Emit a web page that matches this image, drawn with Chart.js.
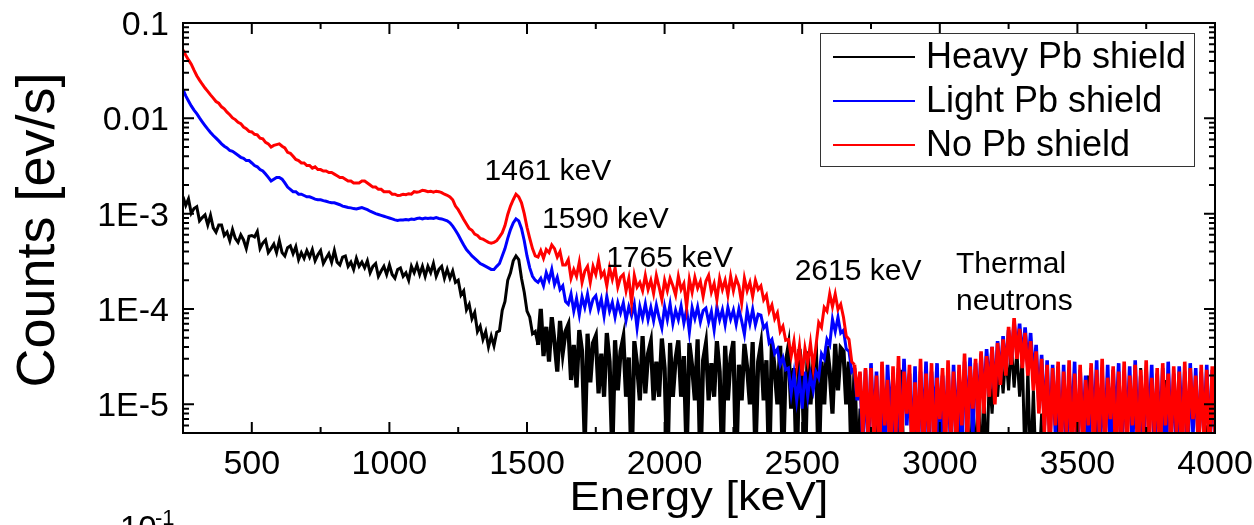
<!DOCTYPE html>
<html>
<head>
<meta charset="utf-8">
<script src="https://cdn.jsdelivr.net/npm/chart.js"></script>
<style>
  html, body { margin: 0; padding: 0; background: #fff; }
  #wrap { position: relative; width: 1254px; height: 525px; }
</style>
</head>
<body>
<div id="wrap"><canvas id="spectrum"></canvas></div>
<script>
// ========================
// DATA (10 keV channels)
// ========================
const energy = [
  250,260,270,280,290,300,310,320,330,340,
  350,360,370,380,390,400,410,420,430,440,
  450,460,470,480,490,500,510,520,530,540,
  550,560,570,580,590,600,610,620,630,640,
  650,660,670,680,690,700,710,720,730,740,
  750,760,770,780,790,800,810,820,830,840,
  850,860,870,880,890,900,910,920,930,940,
  950,960,970,980,990,1000,1010,1020,1030,1040,
  1050,1060,1070,1080,1090,1100,1110,1120,1130,1140,
  1150,1160,1170,1180,1190,1200,1210,1220,1230,1240,
  1250,1260,1270,1280,1290,1300,1310,1320,1330,1340,
  1350,1360,1370,1380,1390,1400,1410,1420,1430,1440,
  1450,1460,1470,1480,1490,1500,1510,1520,1530,1540,
  1550,1560,1570,1580,1590,1600,1610,1620,1630,1640,
  1650,1660,1670,1680,1690,1700,1710,1720,1730,1740,
  1750,1760,1770,1780,1790,1800,1810,1820,1830,1840,
  1850,1860,1870,1880,1890,1900,1910,1920,1930,1940,
  1950,1960,1970,1980,1990,2000,2010,2020,2030,2040,
  2050,2060,2070,2080,2090,2100,2110,2120,2130,2140,
  2150,2160,2170,2180,2190,2200,2210,2220,2230,2240,
  2250,2260,2270,2280,2290,2300,2310,2320,2330,2340,
  2350,2360,2370,2380,2390,2400,2410,2420,2430,2440,
  2450,2460,2470,2480,2490,2500,2510,2520,2530,2540,
  2550,2560,2570,2580,2590,2600,2610,2620,2630,2640,
  2650,2660,2670,2680,2690,2700,2710,2720,2730,2740,
  2750,2760,2770,2780,2790,2800,2810,2820,2830,2840,
  2850,2860,2870,2880,2890,2900,2910,2920,2930,2940,
  2950,2960,2970,2980,2990,3000,3010,3020,3030,3040,
  3050,3060,3070,3080,3090,3100,3110,3120,3130,3140,
  3150,3160,3170,3180,3190,3200,3210,3220,3230,3240,
  3250,3260,3270,3280,3290,3300,3310,3320,3330,3340,
  3350,3360,3370,3380,3390,3400,3410,3420,3430,3440,
  3450,3460,3470,3480,3490,3500,3510,3520,3530,3540,
  3550,3560,3570,3580,3590,3600,3610,3620,3630,3640,
  3650,3660,3670,3680,3690,3700,3710,3720,3730,3740,
  3750,3760,3770,3780,3790,3800,3810,3820,3830,3840,
  3850,3860,3870,3880,3890,3900,3910,3920,3930,3940,
  3950,3960,3970,3980,3990,4000
];

// Heavy Pb shield (black)
const heavyPb = [
  0.00151,0.00122,0.00143,0.00101,0.00113,0.00118,0.00084,0.00091,0.00097,0.00076,
  0.00096,0.00071,0.00064,0.00076,0.00076,0.00059,0.00064,0.00052,0.00068,0.00055,
  0.0005,0.0006,0.00053,0.00043,0.00058,0.00059,0.00057,0.00065,0.00043,0.00049,
  0.00053,0.00039,0.00043,0.00048,0.00039,0.00052,0.00039,0.00036,0.00044,0.00046,
  0.00038,0.00045,0.00033,0.00039,0.00034,0.00041,0.00035,0.00042,0.00032,0.00037,
  0.00041,0.0003,0.00034,0.00038,0.00031,0.00041,0.00031,0.00029,0.00035,0.00036,
  0.00028,0.00031,0.00026,0.00034,0.00028,0.00031,0.00027,0.00032,0.00024,0.00028,
  0.0003,0.00022,0.00025,0.00028,0.00023,0.00029,0.00023,0.00021,0.00026,0.00027,
  0.00022,0.00024,0.0002,0.00028,0.00024,0.00029,0.00023,0.00028,0.00022,0.00028,
  0.00024,0.0003,0.00022,0.00026,0.00028,0.00021,0.00026,0.00021,0.00025,0.00019,
  0.0002,0.00014,0.000155,0.000098,0.000112,0.000079,0.000092,0.000058,0.000066,0.000048,
  0.000058,0.00004,0.000052,0.000041,0.000057,0.000059,0.000097,0.00012,0.0002,0.00024,
  0.00032,0.00036,0.00033,0.00021,0.00015,0.000095,0.000082,0.000055,0.000058,0.000042,
  0.0001,0.000032,0.000065,0.000028,0.000082,0.000045,0.000022,0.000075,0.000035,0.000058,
  0.000068,0.000018,0.000042,0.000015,0.00006,0.000036,0.000004,0.000055,0.000017,0.000044,
  0.000052,0.000013,0.000034,0.000012,0.000056,0.000028,0.000003,0.000047,0.000014,0.000036,
  0.00005,0.000012,0.000031,0.000002,0.000046,0.000026,0.000011,0.000052,0.000013,0.000034,
  0.000045,0.000011,0.000028,0.000012,0.000049,0.000024,0.000002,0.000044,0.000012,0.00003,
  0.000047,0.000012,0.000032,0.000003,0.000044,0.000025,0.000011,0.000048,0.000002,0.000029,
  0.000043,0.000011,0.000027,0.000012,0.000046,0.000022,0.000002,0.000041,0.000011,0.000031,
  0.000046,0.000002,0.000026,0.000011,0.000043,0.000024,0.00001,0.000045,0.000003,0.000028,
  0.000042,0.000011,0.000029,0.000002,0.000045,0.000023,0.00001,0.000041,0.000002,0.000027,
  0.00004,0.000009,0.000024,0.000002,0.000038,0.00002,0.000002,0.000036,0.00001,0.000026,
  0.000034,0.000002,0.000028,0.00001,0.000041,0.000022,0.000008,0.000043,0.000014,0.000039,
  0.000036,0.00001,0.000028,0.000002,0.000022,0.000002,0.000009,0.000002,0.000002,0.000002,
  2e-6,2e-6,6e-6,2e-6,2.6e-5,2e-6,2e-6,2e-6,8e-6,2e-6,
  2e-6,2.3e-5,2e-6,2e-6,2e-6,7e-6,2e-6,2e-6,2e-6,2e-6,
  2e-6,6e-6,2e-6,2e-6,2e-6,2e-6,2.2e-5,2e-6,2e-6,2e-6,
  2e-6,2e-6,7e-6,2e-6,2e-6,9e-6,2e-6,1.2e-5,2e-6,1.5e-5,
  2e-6,1.4e-5,2e-6,2.1e-5,8e-6,2.6e-5,1.2e-5,3e-5,1.3e-5,3.4e-5,
  1.4e-5,4.2e-5,1.5e-5,3.6e-5,1.2e-5,3.1e-5,2e-6,2.4e-5,2e-6,1.4e-5,
  2e-6,2e-6,8e-6,2e-6,2e-6,2e-6,2e-6,2e-6,2.3e-5,2e-6,
  2e-6,2e-6,2e-6,6e-6,2e-6,2e-6,2e-6,2e-6,2e-6,2e-5,
  2e-6,2e-6,7e-6,2e-6,2e-6,2e-6,2e-6,2e-6,6e-6,2e-6,
  2e-6,2e-6,2e-6,2e-6,2e-6,2e-6,2e-6,2e-6,2.4e-5,2e-6,
  2e-6,6e-6,2e-6,2e-6,2e-6,2e-6,2e-6,1.8e-5,2e-6,2e-6,
  2e-6,2e-6,2e-6,7e-6,2e-6,2e-6,2e-6,2e-6,2e-6,2e-6,
  2e-6,2e-6,6e-6,2e-6,2e-6,2e-6
];

// Light Pb shield (blue)
const lightPb = [
  0.020,0.0172,0.0152,0.0135,0.0122,0.0112,0.0101,0.0092,0.0084,0.0077,
  0.0071,0.0066,0.0062,0.0058,0.0054,0.0051,0.0049,0.0046,0.0045,0.0043,
  0.0041,0.0039,0.0038,0.0036,0.0036,0.0034,0.0032,0.0031,0.0029,0.0028,
  0.0026,0.0024,0.0022,0.0023,0.0024,0.0024,0.0023,0.0021,0.0019,0.0018,
  0.0017,0.0017,0.0016,0.0016,0.00155,0.0015,0.0015,0.00146,0.00142,0.0014,
  0.0014,0.00137,0.00135,0.00132,0.0013,0.0013,0.00127,0.00124,0.0012,0.00118,
  0.00116,0.00115,0.00113,0.00112,0.00114,0.00116,0.00113,0.0011,0.00106,0.00103,
  0.001,0.00098,0.00096,0.00094,0.00092,0.0009,0.00088,0.00086,0.00085,0.00086,
  0.00086,0.00087,0.00086,0.00088,0.00087,0.00089,0.0009,0.00088,0.0009,0.00089,
  0.0009,0.00089,0.00091,0.00089,0.00088,0.00086,0.00084,0.0008,0.00074,0.00067,
  0.0006,0.00053,0.00047,0.00042,0.00039,0.00036,0.00034,0.00032,0.0003,0.00029,
  0.00028,0.00027,0.00026,0.00026,0.00028,0.0003,0.00036,0.00043,0.00055,0.00068,
  0.0008,0.00088,0.00084,0.0007,0.00052,0.00036,0.00027,0.00022,0.0002,0.00019,
  0.00021,0.000175,0.00024,0.0002,0.00026,0.00018,0.000215,0.00016,0.000175,0.00012,
  0.000112,0.000144,0.000095,0.000129,0.000087,0.000134,0.000104,0.000143,0.000099,0.000127,
  0.000138,0.000099,0.000127,0.000084,0.000135,0.000095,0.000117,0.000082,0.000116,0.000091,
  0.000116,0.000076,0.000106,0.000085,0.000112,0.000063,0.000106,0.00008,0.000113,0.000077,
  0.000104,0.000075,0.00011,0.000081,0.000063,0.000106,0.000077,0.000113,0.00007,0.000097,
  0.000077,0.000107,0.000071,0.000099,0.000057,0.000103,0.000079,0.000105,0.000073,0.000096,
  0.000102,0.000073,0.000094,0.00006,0.000106,0.000077,0.000098,0.000068,0.000104,0.000078,
  0.000097,0.000069,0.0001,0.000075,0.000054,0.000097,0.00007,0.000099,0.000068,0.000088,
  0.000086,0.000063,0.000069,0.000044,0.000048,0.000034,0.000038,0.000026,0.000031,0.000023,
  0.000024,0.000013,0.000021,0.000011,0.000019,0.000009,0.000022,0.000012,0.00002,0.000014,
  0.000022,0.000019,0.000034,0.00003,0.000048,0.000042,0.000078,0.000058,0.000082,0.000056,
  0.00006,0.000038,0.000036,0.000022,0.000024,0.000011,0.000021,0.000004,0.000023,0.000003,
  2.7e-5,5e-6,2.2e-5,3e-6,1.8e-5,2e-6,2.6e-5,7e-6,2e-5,2.5e-6,
  2.4e-5,4e-6,3e-5,6e-6,2.1e-5,3e-6,2.5e-5,2e-6,2.2e-5,5e-6,
  2.8e-5,3e-6,2.2e-5,6e-6,2.7e-5,2e-6,2e-5,5e-6,2.4e-5,3e-6,
  2.6e-5,5e-6,2.2e-5,3e-6,2.8e-5,7e-6,3.1e-5,5e-6,2.7e-5,9e-6,
  3.4e-5,1e-5,3.8e-5,1.4e-5,4e-5,1.2e-5,4.6e-5,1.8e-5,5.2e-5,2.2e-5,
  6e-5,3e-5,7.2e-5,3.4e-5,7e-5,2.8e-5,6.4e-5,2.4e-5,5.6e-5,1.8e-5,
  4.2e-5,1e-5,3.3e-5,6e-6,2.9e-5,4e-6,2.6e-5,5e-6,2.5e-5,3e-6,
  2.6e-5,3e-6,2.2e-5,6e-6,2.8e-5,2e-6,2.3e-5,5e-6,2e-5,3e-6,
  2.4e-5,5e-6,2.9e-5,2e-6,2.1e-5,4e-6,2.6e-5,3e-6,2.3e-5,6e-6,
  2.7e-5,2e-6,2.2e-5,5e-6,2.5e-5,3e-6,2.9e-5,4e-6,2e-5,2.5e-6,
  2.3e-5,6e-6,2.6e-5,3e-6,2.1e-5,5e-6,2.4e-5,2e-6,2.8e-5,4e-6,
  2.1e-5,3e-6,2.5e-5,6e-6,2.2e-5,2e-6,2.7e-5,5e-6,2.4e-5,3e-6,
  2.2e-5,5e-6,2.6e-5,3e-6,2.3e-5,4e-6
];

// No Pb shield (red)
const noPb = [
  0.052,0.046,0.041,0.037,0.032,0.028,0.0252,0.0228,0.0208,0.0192,
  0.0176,0.0163,0.0150,0.0144,0.0132,0.0126,0.0116,0.0109,0.0101,0.0097,
  0.0091,0.0088,0.0081,0.0078,0.0073,0.0072,0.0068,0.0067,0.0062,0.0061,
  0.0056,0.0054,0.0050,0.0052,0.0053,0.0054,0.0051,0.0049,0.0044,0.0043,
  0.0040,0.0037,0.0036,0.0034,0.0034,0.0032,0.0032,0.0030,0.0031,0.0029,
  0.0029,0.0028,0.0028,0.0027,0.0027,0.0026,0.0025,0.0024,0.0024,0.0023,
  0.0022,0.0022,0.0021,0.0021,0.0021,0.0022,0.0022,0.0021,0.0020,0.0019,
  0.0019,0.0018,0.0018,0.0017,0.0017,0.0017,0.0016,0.0016,0.00155,0.00156,
  0.0016,0.00158,0.00162,0.0016,0.0017,0.00168,0.0017,0.00176,0.00174,0.0017,
  0.00172,0.00168,0.00172,0.0017,0.00166,0.0016,0.00156,0.0015,0.0014,0.0012,
  0.0011,0.00098,0.00087,0.00078,0.0007,0.00067,0.00061,0.00059,0.00055,0.00054,
  0.00052,0.0005,0.00049,0.0005,0.00052,0.00057,0.00063,0.00075,0.00098,0.0012,
  0.0014,0.0016,0.0015,0.0013,0.001,0.00072,0.00055,0.00043,0.00036,0.00035,
  0.00041,0.00034,0.00042,0.00039,0.00047,0.00043,0.00035,0.0004,0.00029,0.00029,
  0.00033,0.00021,0.00026,0.00022,0.00031,0.00019,0.00025,0.00028,0.00019,0.00028,
  0.00023,0.000325,0.00022,0.000245,0.000175,0.00027,0.000205,0.00027,0.00017,0.000215,
  0.00023,0.000155,0.00021,0.000115,0.000225,0.00017,0.00019,0.000155,0.000225,0.00016,
  0.0002,0.000145,0.000225,0.00017,0.000125,0.0002,0.000155,0.00021,0.000175,0.00014,
  0.00022,0.00016,0.000185,0.000105,0.000205,0.00015,0.000215,0.000165,0.000195,0.000135,
  0.000195,0.000225,0.00015,0.000185,0.000125,0.00021,0.00016,0.0002,0.00014,0.00022,
  0.000155,0.00021,0.000175,0.000115,0.00021,0.000155,0.00019,0.000135,0.0002,0.00016,
  0.000175,0.000125,0.00014,0.000094,0.00011,0.000079,0.000091,0.000058,0.000066,0.000047,
  0.000048,0.000032,0.000046,0.000025,0.000041,0.00002,0.000039,0.000027,0.000044,0.000024,
  0.000041,0.000072,0.000064,0.000104,0.000095,0.000144,0.000106,0.000144,0.000099,0.000112,
  0.000082,0.000052,0.000048,0.000028,0.000026,0.000012,0.000022,0.000005,0.000024,0.000004,
  2.4e-5,4e-6,2e-5,2.5e-6,2.8e-5,6e-6,1.8e-5,2e-6,2.5e-5,5e-6,
  3.2e-5,3e-6,2.2e-5,8e-6,2.6e-5,2e-6,1.7e-5,4e-6,3e-5,2.5e-6,
  2.1e-5,5e-6,2.7e-5,2e-6,1.9e-5,7e-6,2.4e-5,3e-6,2.9e-5,4.5e-6,
  2.2e-5,3e-6,2.6e-5,6e-6,3.4e-5,4e-6,2.5e-5,9e-6,3e-5,5e-6,
  3.6e-5,8e-6,3.2e-5,1.2e-5,4e-5,1e-5,4.4e-5,1.6e-5,4.8e-5,2e-5,
  6.5e-5,2.6e-5,8e-5,3e-5,6.2e-5,2.4e-5,5.6e-5,2e-5,4.6e-5,1.4e-5,
  3.6e-5,8e-6,3e-5,5e-6,2.6e-5,3e-6,2.4e-5,6e-6,2.8e-5,2.5e-6,
  2.2e-5,5e-6,2.9e-5,2e-6,2.1e-5,4e-6,2.6e-5,3e-6,1.8e-5,6e-6,
  2.7e-5,2.5e-6,2.3e-5,5e-6,3e-5,3e-6,1.9e-5,7e-6,2.5e-5,2e-6,
  2.2e-5,4e-6,2.8e-5,3e-6,2e-5,6e-6,2.6e-5,2e-6,2.3e-5,5e-6,
  2.9e-5,3e-6,1.9e-5,5e-6,2.4e-5,2e-6,2.7e-5,6e-6,2.1e-5,3.5e-6,
  2.5e-5,5e-6,2.2e-5,2e-6,2.8e-5,4e-6,2.4e-5,7e-6,2e-5,3e-6,
  2.6e-5,4e-6,2.3e-5,2.5e-6,2.5e-5,5e-6
];

const seriesNames = ["Heavy Pb shield", "Light Pb shield", "No Pb shield"];
const seriesColors = ["#000000", "#0000ff", "#ff0000"];

const xTicks = [500, 1000, 1500, 2000, 2500, 3000, 3500, 4000];
const yTicks = [1e-5, 1e-4, 1e-3, 0.01, 0.1];
const yTickLabels = ["1E-5", "1E-4", "1E-3", "0.01", "0.1"];

// peak labels: [energy, counts] of the text anchor
const peakLabels = ["1461 keV", "1590 keV", "1765 keV", "2615 keV", "Thermal", "neutrons"];
const peakEnergy = [1576, 1785, 2018, 2703, 3059, 3059];
const peakCounts = [2.25e-3, 7.06e-4, 2.75e-4, 2.01e-4, 2.38e-4, 9.7e-5];

const FONT = "'Liberation Sans', Arial, sans-serif";

// ========================
// DECOR: frame, inward ticks, tick labels, legend, labels
// ========================
const decorations = {
  id: "decorations",
  afterDraw(chart) {
    const ctx = chart.ctx;
    const area = chart.chartArea;
    const xs = chart.scales.x;
    const ys = chart.scales.y;

    ctx.save();
    ctx.strokeStyle = "#000";
    ctx.lineWidth = 2;
    ctx.beginPath();

    // x major + minor ticks (bottom and top, pointing in)
    xTicks.forEach(v => {
      const px = xs.getPixelForValue(v);
      ctx.moveTo(px, area.bottom); ctx.lineTo(px, area.bottom - 11);
      ctx.moveTo(px, area.top); ctx.lineTo(px, area.top + 11);
    });
    for (let v = xs.min + 500; v < xs.max; v += 500) {
      const px = xs.getPixelForValue(v);
      ctx.moveTo(px, area.bottom); ctx.lineTo(px, area.bottom - 6);
      ctx.moveTo(px, area.top); ctx.lineTo(px, area.top + 6);
    }

    // y major + minor ticks (left and right, pointing in)
    yTicks.forEach(d => {
      const py = ys.getPixelForValue(d);
      ctx.moveTo(area.left, py); ctx.lineTo(area.left + 11, py);
      ctx.moveTo(area.right, py); ctx.lineTo(area.right - 11, py);
      for (let k = 2; k <= 9; k++) {
        const v = d / 10 * k;
        if (v < ys.min || v > ys.max) continue;
        const pm = ys.getPixelForValue(v);
        ctx.moveTo(area.left, pm); ctx.lineTo(area.left + 6, pm);
        ctx.moveTo(area.right, pm); ctx.lineTo(area.right - 6, pm);
      }
    });
    ctx.stroke();

    // frame
    ctx.strokeRect(area.left, area.top, area.right - area.left, area.bottom - area.top);

    // tick labels
    ctx.fillStyle = "#000";
    ctx.font = "34px " + FONT;
    ctx.textBaseline = "alphabetic";
    ctx.textAlign = "center";
    xTicks.forEach(v => ctx.fillText(String(v), xs.getPixelForValue(v), area.bottom + 41));
    ctx.textAlign = "right";
    yTicks.forEach((v, i) => ctx.fillText(yTickLabels[i], area.left - 14, ys.getPixelForValue(v) + 12));

    // legend box
    const lx = area.right - 395, ly = area.top + 10;
    ctx.fillStyle = "#fff";
    ctx.fillRect(lx, ly, 374, 133);
    ctx.lineWidth = 1;
    ctx.strokeStyle = "#333";
    ctx.strokeRect(lx + 0.5, ly + 0.5, 374, 133);
    ctx.font = "36px " + FONT;
    ctx.textBaseline = "middle";
    ctx.textAlign = "left";
    seriesNames.forEach((name, i) => {
      const ry = ly + 24 + i * 44;
      ctx.strokeStyle = seriesColors[i];
      ctx.lineWidth = 2;
      ctx.beginPath();
      ctx.moveTo(lx + 13, ry); ctx.lineTo(lx + 95, ry);
      ctx.stroke();
      ctx.fillStyle = "#000";
      ctx.fillText(name, lx + 106, ry + 1);
    });

    // peak labels
    ctx.font = "30px " + FONT;
    ctx.textBaseline = "alphabetic";
    ctx.fillStyle = "#000";
    peakLabels.forEach((txt, i) => {
      ctx.textAlign = i >= 4 ? "left" : "center";
      ctx.fillText(txt, xs.getPixelForValue(peakEnergy[i]), ys.getPixelForValue(peakCounts[i]));
    });

    // axis titles
    ctx.textAlign = "center";
    ctx.save();
    ctx.translate((area.left + area.right) / 2, 510);
    ctx.scale(1.13, 1);
    ctx.font = "40px " + FONT;
    ctx.fillText("Energy [keV]", 0, 0);
    ctx.restore();

    ctx.save();
    ctx.translate(54, (area.top + area.bottom) / 2 + 2);
    ctx.rotate(-Math.PI / 2);
    ctx.font = "54px " + FONT;
    ctx.fillText("Counts [ev/s]", 0, 0);
    ctx.restore();

    // cut-off label of the panel below
    ctx.textAlign = "left";
    ctx.font = "33px " + FONT;
    ctx.fillText("10", 120, 539);
    ctx.font = "22px " + FONT;
    ctx.fillText("-1", 155, 525);

    ctx.restore();
  }
};

function makeSeries(values) {
  return energy.map((e, i) => ({ x: e, y: values[i] }));
}

// thicker strokes where the spectra turn into dense noise
function noisyWidth(from, to, w) {
  return c => (c.p0.parsed.x >= from && c.p1.parsed.x <= to) ? w : undefined;
}

new Chart(document.getElementById("spectrum"), {
  type: "line",
  data: {
    datasets: [
      { label: seriesNames[0], data: makeSeries(heavyPb), borderColor: seriesColors[0], order: 2,
        segment: { borderWidth: noisyWidth(1540, 2700, 4.2) } },
      { label: seriesNames[1], data: makeSeries(lightPb), borderColor: seriesColors[1], order: 1,
        segment: { borderWidth: noisyWidth(2690, 4000, 3.6) } },
      { label: seriesNames[2], data: makeSeries(noPb), borderColor: seriesColors[2], order: 0,
        segment: { borderWidth: noisyWidth(2690, 4000, 3.6) } }
    ]
  },
  options: {
    responsive: true,
    maintainAspectRatio: false,
    animation: false,
    layout: { padding: { top: 23, right: 39, left: 0, bottom: 0 } },
    elements: {
      point: { radius: 0 },
      line: { borderWidth: 3, tension: 0, fill: false, borderJoinStyle: "miter" }
    },
    datasets: { line: { clip: 0 } },
    plugins: { legend: { display: false }, tooltip: { enabled: false } },
    scales: {
      x: {
        type: "linear",
        min: 250,
        max: 4000,
        grid: { display: false, drawTicks: false },
        border: { display: false },
        afterBuildTicks: s => { s.ticks = xTicks.map(v => ({ value: v })); },
        afterFit: s => { s.height = 92; },
        ticks: { display: false }
      },
      y: {
        type: "logarithmic",
        min: 5e-6,
        max: 0.1,
        grid: { display: false, drawTicks: false },
        border: { display: false },
        afterBuildTicks: s => { s.ticks = yTicks.map(v => ({ value: v })); },
        afterFit: s => { s.width = 183; },
        ticks: { display: false }
      }
    }
  },
  plugins: [decorations]
});
</script>
</body>
</html>
